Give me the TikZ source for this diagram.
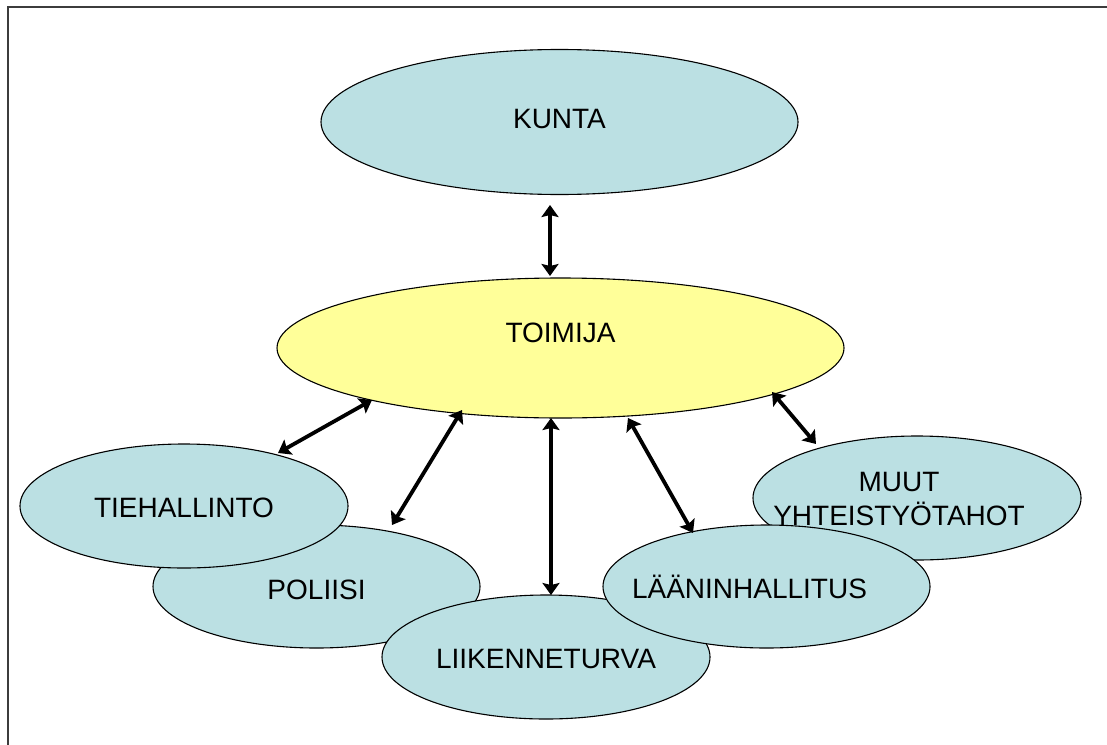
\documentclass[tikz,border=0pt]{standalone}
\usepackage{fontspec}
\setmainfont{Liberation Sans}
\usetikzlibrary{shapes.geometric,arrows.meta}
\definecolor{lblue}{RGB}{187,224,227}
\definecolor{lyellow}{RGB}{255,255,153}
\definecolor{framegray}{RGB}{60,60,60}
\tikzset{
  ell/.style={ellipse, draw=black, line width=1.1pt, fill=lblue, inner sep=0pt},
  txt/.style={font=\fontsize{28}{34}\selectfont, inner sep=0pt, align=center},
  captxt/.style={txt, text height=20pt, text depth=0pt},
  arr/.style={line width=3.8pt, {Stealth[length=12pt,width=17pt,inset=2pt]}-{Stealth[length=12pt,width=17pt,inset=2pt]}}
}
\begin{document}
\begin{tikzpicture}[x=1pt,y=-1pt]
\useasboundingbox (0,0) rectangle (1107,744);
\draw[framegray, line width=1.6pt] (8,760) -- (8,7) -- (1120,7);

\node[ell, minimum width=477pt, minimum height=145pt,
  label={[captxt, yshift=4pt]center:KUNTA}] (kunta) at (559.5,122) {};
\node[ell, fill=lyellow, minimum width=567pt, minimum height=140pt,
  label={[captxt, yshift=15.5pt]center:TOIMIJA}] (toimija) at (560.5,348) {};

\node[ell, minimum width=327pt, minimum height=123pt,
  label={[captxt, yshift=-2.5pt]center:POLIISI}] (poliisi) at (316.5,586.5) {};
\node[ell, minimum width=328pt, minimum height=124pt,
  label={[captxt, yshift=-1pt]center:TIEHALLINTO}] (tieh) at (184,506) {};
\node[ell, minimum width=328pt, minimum height=124pt,
  label={[captxt, yshift=-1pt]center:LIIKENNETURVA}] (liik) at (546,657) {};
\node[ell, minimum width=328pt, minimum height=124pt,
  label={[txt, xshift=-18pt, yshift=-1pt]center:MUUT\\YHTEISTYÖTAHOT}] (muut) at (917,498) {};
\node[ell, minimum width=327pt, minimum height=123pt,
  label={[captxt, xshift=-17pt, yshift=-1.5pt]center:LÄÄNINHALLITUS}] (laanin) at (766.5,586.5) {};

\draw[arr] ([shift={(-9.5,83)}]kunta.center) -- ([shift={(-10.5,-72)}]toimija.center);
\draw[arr] ([shift={(-188.5,52)}]toimija.center) -- ([shift={(94,-53)}]tieh.center);
\draw[arr] ([shift={(-98.5,62)}]toimija.center) -- ([shift={(75.5,-61.5)}]poliisi.center);
\draw[arr] ([shift={(-9.5,70)}]toimija.center) -- ([shift={(5,-62)}]liik.center);
\draw[arr] ([shift={(67.5,70)}]toimija.center) -- ([shift={(-73.5,-53.5)}]laanin.center);
\draw[arr] ([shift={(211.5,44)}]toimija.center) -- ([shift={(-101,-54)}]muut.center);
\end{tikzpicture}
\end{document}
